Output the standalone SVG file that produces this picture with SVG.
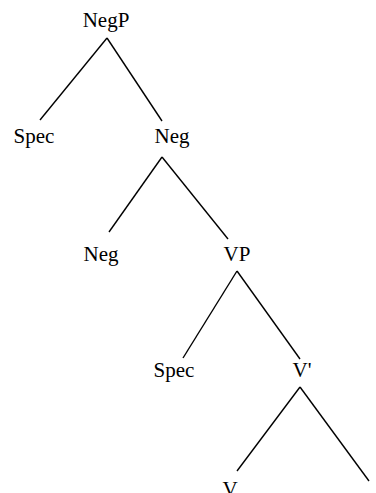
<svg xmlns="http://www.w3.org/2000/svg" width="376" height="493" viewBox="0 0 376 493">
  <style>
    .lbl { font-family: "Liberation Serif", "Times New Roman", serif; font-size: 21px; fill: #000; text-anchor: middle; }
    .edge { stroke: #000; stroke-width: 1.4; fill: none; }
  </style>
  <rect width="376" height="493" fill="#fff"/>
  <g id="connectors">
    <line class="edge" x1="107" y1="38" x2="40" y2="120"/>
    <line class="edge" x1="107" y1="38" x2="162" y2="121"/>
    <line class="edge" x1="162" y1="157" x2="109" y2="232"/>
    <line class="edge" x1="162" y1="157" x2="228" y2="239"/>
    <line class="edge" x1="237" y1="271" x2="183" y2="358"/>
    <line class="edge" x1="237" y1="271" x2="300" y2="359"/>
    <line class="edge" x1="300" y1="387" x2="237" y2="471"/>
    <line class="edge" x1="300" y1="387" x2="369" y2="481"/>
  </g>
  <g id="node-negp"><text class="lbl" x="106" y="27">NegP</text></g>
  <g id="node-spec1"><text class="lbl" x="34" y="143">Spec</text></g>
  <g id="node-negbar"><text class="lbl" x="172" y="143">Neg</text></g>
  <g id="node-neg"><text class="lbl" x="101" y="261">Neg</text></g>
  <g id="node-vp"><text class="lbl" x="237" y="261">VP</text></g>
  <g id="node-spec2"><text class="lbl" x="174" y="377">Spec</text></g>
  <g id="node-vbar"><text class="lbl" x="302" y="377">V'</text></g>
  <g id="node-v"><text class="lbl" x="230" y="496">V</text></g>
</svg>
